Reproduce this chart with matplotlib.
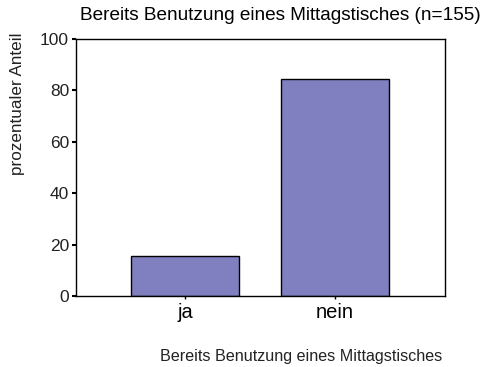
import matplotlib.pyplot as plt

plt.rcParams['font.family'] = ['Liberation Sans', 'DejaVu Sans']

kategorien = ['ja', 'nein']
anteil = [15.5, 84.5]
y_ticks = [0, 20, 40, 60, 80, 100]

fig = plt.figure(figsize=(5.01, 3.67), dpi=100)
ax = fig.add_axes([76 / 501, 1 - 296 / 367, 369 / 501, 257 / 367])

ax.bar(range(len(kategorien)), anteil, width=0.72, color='#8080c0',
       edgecolor='black', linewidth=1)

ax.set_xlim(-0.727, 1.733)
ax.set_ylim(0, 100)
ax.set_yticks(y_ticks)
ax.set_xticks(range(len(kategorien)))
ax.set_xticklabels(kategorien, fontsize=14.5)
ax.tick_params(axis='y', length=3, width=1.5, labelsize=12.5, pad=2,
               labelcolor='#222222')
ax.tick_params(axis='x', length=2, width=1, pad=3)

for s in ax.spines.values():
    s.set_linewidth(1)

# Achsentitel frei platziert wie im Original
fig.text(17.5 / 501, 1 - 104 / 367, 'prozentualer Anteil', rotation=90,
         ha='center', va='center', fontsize=12.3, color='#222222')
fig.text(442 / 501, 1 - 356 / 367, 'Bereits Benutzung eines Mittagstisches',
         ha='right', va='center', fontsize=11.6, color='#222222')
fig.text(280 / 501, 1 - 16 / 367, 'Bereits Benutzung eines Mittagstisches (n=155)',
         ha='center', va='center', fontsize=13.7)

fig.savefig('out.png', dpi=100)
